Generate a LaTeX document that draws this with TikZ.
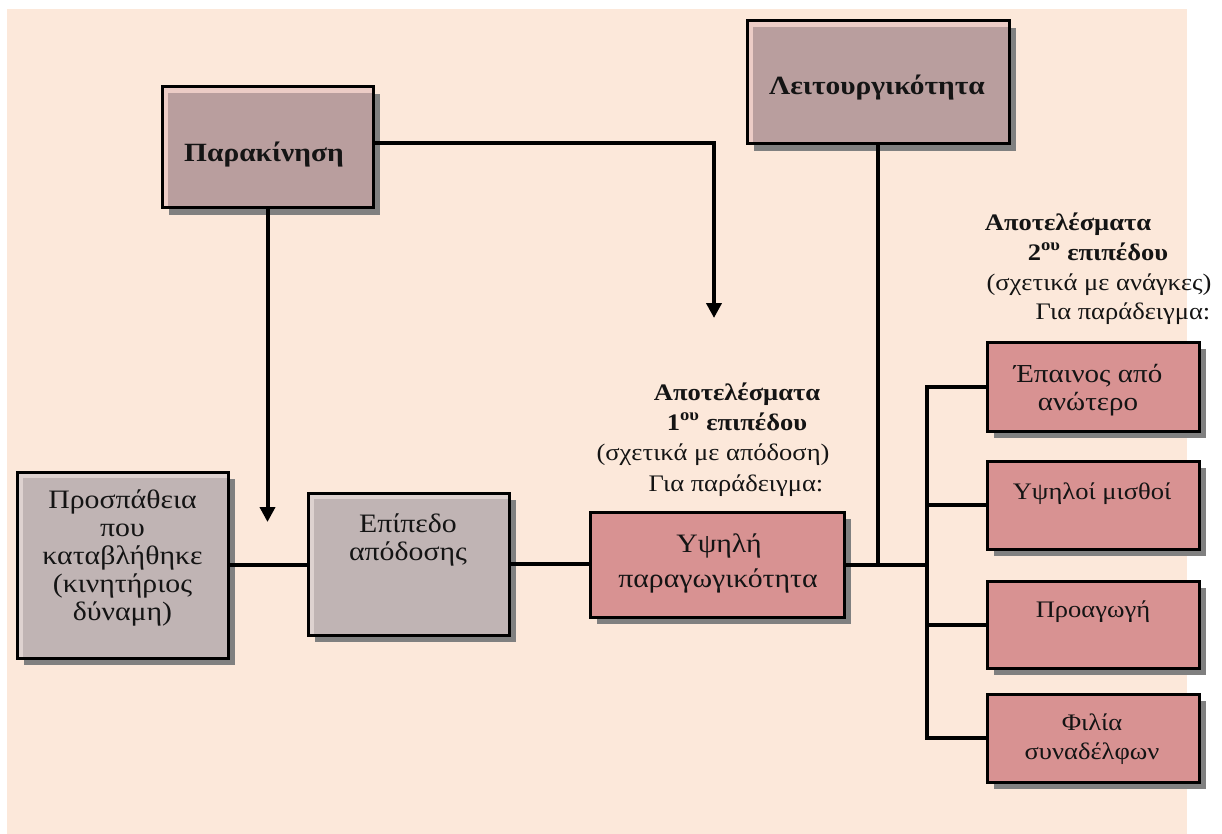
\documentclass[tikz,border=0pt]{standalone}
\usepackage{fontspec}
\setmainfont{Liberation Serif}[FakeStretch=1.12]
\usetikzlibrary{arrows.meta,shadows}
\definecolor{peach}{RGB}{252,232,218}
\definecolor{mauve}{RGB}{185,158,158}
\definecolor{bevelmauve}{RGB}{236,204,198}
\definecolor{graymauve}{RGB}{192,180,180}
\definecolor{bevelgray}{RGB}{222,210,208}
\definecolor{resultpink}{RGB}{216,146,146}
\definecolor{shadowgray}{RGB}{128,128,128}
\definecolor{ink}{RGB}{20,20,20}
\begin{document}
\begin{tikzpicture}[x=1pt,y=-1pt,
  boxbase/.style={draw=black,line width=3pt,inner sep=0pt,outer sep=0pt,
    drop shadow={shadow xshift=7pt,shadow yshift=-7pt,fill=shadowgray,opacity=1}},
  bevel/.style 2 args={fill=#1,path picture={
    \fill[#2] ([xshift=6pt,yshift=-6pt]path picture bounding box.north west)
      rectangle (path picture bounding box.south east);}},
  motivebox/.style={boxbase,bevel={bevelmauve}{mauve}},
  inputbox/.style={boxbase,bevel={bevelgray}{graymauve}},
  resultbox/.style={boxbase,fill=resultpink},
  lbl/.style={anchor=base,inner sep=0pt,text=ink},
  boxtxt/.style={lbl,font=\fontsize{26.6}{30}\selectfont},
  firsttxt/.style={lbl,font=\fontsize{25.9}{29}\selectfont},
  smalltxt/.style={lbl,font=\fontsize{23.7}{28}\selectfont},
  headb/.style={lbl,font=\fontsize{23.7}{28}\selectfont\bfseries},
  bigb/.style={lbl,font=\fontsize{26.3}{30}\selectfont\bfseries},
  wire/.style={line width=4pt,draw=black},
  arrow/.style={wire,-{Triangle[width=15pt,length=15pt]}}]

\useasboundingbox (0,0) rectangle (1222,834);
\fill[peach] (7,9) rectangle (1187,834);

% boxes
\node[motivebox,minimum width=211pt,minimum height=121pt] (par) at (267.5,147.5) {};
\node[motivebox,minimum width=262pt,minimum height=123pt] (leit) at (878,82.5) {};
\node[inputbox,minimum width=211pt,minimum height=186pt] (pros) at (122.5,565) {};
\node[inputbox,minimum width=201pt,minimum height=142pt] (epi) at (408.5,564) {};
\node[resultbox,minimum width=254pt,minimum height=105pt] (ypsili) at (717,564.5) {};
\node[resultbox,minimum width=212pt,minimum height=89pt] (epainos) at (1093,386.5) {};
\node[resultbox,minimum width=212pt,minimum height=88pt] (misthoi) at (1093,505) {};
\node[resultbox,minimum width=212pt,minimum height=87pt] (proagogi) at (1093,624.5) {};
\node[resultbox,minimum width=212pt,minimum height=88pt] (filia) at (1093,738) {};

% free ends of the connectors
\coordinate (arrA) at (267.5,522);
\coordinate (arrB) at (714,318);
\coordinate (busTop) at (927,386.5);
\coordinate (busBot) at (927,738);
\coordinate (busMid) at (927,564.5);

% connectors
\draw[arrow] (par.south) -- (arrA);
\draw[arrow] ([yshift=4.5pt]par.east) -| (arrB);
\draw[wire] (pros.east) -- (pros.east -| epi.west);
\draw[wire] (epi.east) -- (epi.east -| ypsili.west);
\draw[wire] (ypsili.east) -- (busMid);
\draw[wire] (leit.south) -- (leit.south |- busMid);
\draw[wire,line cap=rect] (busTop) -- (busBot);
\draw[wire] (busTop) -- (epainos.west);
\draw[wire] (busTop |- misthoi.west) -- (misthoi.west);
\draw[wire] (busTop |- proagogi.west) -- (proagogi.west);
\draw[wire] (busBot) -- (filia.west);

% box labels
\node[bigb] (tpar) at (264,162) {Παρακίνηση};
\node[bigb] (tleit) at (877,95) {Λειτουργικότητα};

\node[boxtxt] (tp1) at (122.5,508) {Προσπάθεια};
\node[boxtxt] (tp2) at (122.5,536) {που};
\node[boxtxt] (tp3) at (122.5,564) {καταβλήθηκε};
\node[boxtxt] (tp4) at (122.5,592) {(κινητήριος};
\node[boxtxt] (tp5) at (122.5,620) {δύναμη)};

\node[boxtxt] (te1) at (408,532) {Επίπεδο};
\node[boxtxt] (te2) at (408,560) {απόδοσης};

\node[boxtxt] (ty1) at (719,552) {Υψηλή};
\node[boxtxt] (ty2) at (718,587) {παραγωγικότητα};

\node[firsttxt] (tr1) at (1088,382) {Έπαινος από};
\node[firsttxt] (tr2) at (1088,410) {ανώτερο};
\node[smalltxt] (tr3) at (1092,499) {Υψηλοί μισθοί};
\node[smalltxt] (tr4) at (1093,617) {Προαγωγή};
\node[smalltxt] (tr5) at (1092,730) {Φιλία};
\node[smalltxt] (tr6) at (1092,759) {συναδέλφων};

% headings over the result columns
\node[headb] (h1a) at (737,400) {Αποτελέσματα};
\node[headb] (h1b) at (737,430) {1\textsuperscript{ου} επιπέδου};
\node[smalltxt] (h1c) at (713,460) {(σχετικά με απόδοση)};
\node[smalltxt] (h1d) at (736,491) {Για παράδειγμα:};

\node[headb] (h2a) at (1068,230) {Αποτελέσματα};
\node[headb] (h2b) at (1098,260) {2\textsuperscript{ου} επιπέδου};
\node[smalltxt] (h2c) at (1099,290) {(σχετικά με ανάγκες)};
\node[smalltxt] (h2d) at (1123,319) {Για παράδειγμα:};
\end{tikzpicture}
\end{document}
